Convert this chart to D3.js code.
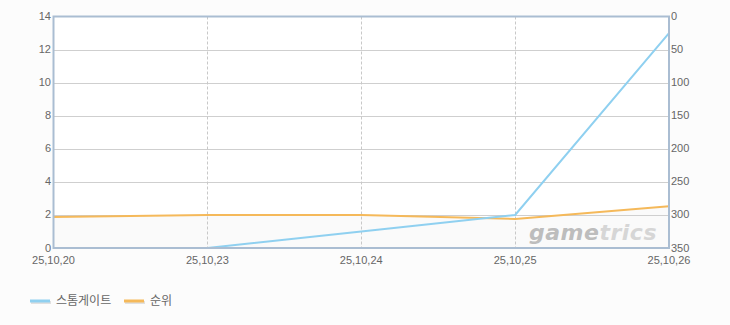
<!DOCTYPE html>
<html>
<head>
<meta charset="utf-8">
<script src="https://cdn.jsdelivr.net/npm/d3@7"></script>
<style>
  body { margin: 0; background: #fcfcfc; }
  svg { display: block; }
  text { font-family: "Liberation Sans", Arial, sans-serif; fill: #666; }
  .legend text { font-family: "Noto Sans CJK KR", sans-serif; }
</style>
</head>
<body>
<svg id="chart" width="730" height="325"></svg>
<script>
'use strict';

var dates = ['25,10,20', '25,10,23', '25,10,24', '25,10,25', '25,10,26'];
var players = [0, 0, 1, 2, 13];
var ranks = [303, 300, 300, 306, 287];
var leftTicks = [0, 2, 4, 6, 8, 10, 12, 14];
var rightTicks = [0, 50, 100, 150, 200, 250, 300, 350];
var seriesNames = ['스톰게이트', '순위'];
var colors = ['#8fd0f0', '#f5b95a'];

var svg = d3.select('#chart');
var plotLeft = 53.5, plotRight = 669, plotTop = 16.5, plotBottom = 248;

var x = d3.scalePoint().domain(dates).range([plotLeft, plotRight]);
var yL = d3.scaleLinear().domain([0, 14]).range([plotBottom, plotTop]);
var yR = d3.scaleLinear().domain([0, 350]).range([plotTop, plotBottom]);

// plot background, white above rank line, light grey below
svg.append('rect')
    .attr('x', plotLeft).attr('y', plotTop)
    .attr('width', plotRight - plotLeft).attr('height', plotBottom - plotTop)
    .attr('fill', '#fff');
svg.append('path')
    .datum(ranks)
    .attr('fill', '#fafafa')
    .attr('d', d3.area()
        .x((d, i) => x(dates[i]))
        .y0(plotBottom)
        .y1(d => yR(d)));

// horizontal grid
svg.append('g')
    .selectAll('line')
    .data(leftTicks.slice(1, -1))
    .enter().append('line')
    .attr('x1', plotLeft).attr('x2', plotRight)
    .attr('y1', d => Math.round(yL(d)) + 0.5)
    .attr('y2', d => Math.round(yL(d)) + 0.5)
    .attr('stroke', '#cfcfcf');

// vertical dashed grid
svg.append('g')
    .selectAll('line')
    .data(dates.slice(1, -1))
    .enter().append('line')
    .attr('x1', d => Math.round(x(d)) + 0.5)
    .attr('x2', d => Math.round(x(d)) + 0.5)
    .attr('y1', plotTop).attr('y2', plotBottom)
    .attr('stroke', '#c8c8c8')
    .attr('stroke-dasharray', '3,2');

// watermark
var wm = svg.append('text')
    .attr('x', 657).attr('y', 240)
    .attr('text-anchor', 'end')
    .style('font-family', '"DejaVu Sans", sans-serif')
    .style('font-size', '22px')
    .style('font-weight', 'bold')
    .style('font-style', 'italic')
    .style('letter-spacing', '0.5px');
wm.append('tspan').style('fill', '#bdbdbd').text('game');
wm.append('tspan').style('fill', '#d6d6d6').text('trics');

// series
var lineL = d3.line().x((d, i) => x(dates[i])).y(d => yL(d));
var lineR = d3.line().x((d, i) => x(dates[i])).y(d => yR(d));
svg.append('path').datum(ranks)
    .attr('fill', 'none').attr('stroke', colors[1]).attr('stroke-width', 2)
    .attr('d', lineR);
svg.append('path').datum(players)
    .attr('fill', 'none').attr('stroke', colors[0]).attr('stroke-width', 2)
    .attr('d', lineL);

// frame
svg.append('rect')
    .attr('x', plotLeft).attr('y', plotTop)
    .attr('width', plotRight - plotLeft).attr('height', plotBottom - plotTop)
    .attr('fill', 'none')
    .attr('stroke', '#aabdd2')
    .attr('stroke-width', 2);

// axes
var fs = '11px';
svg.append('g')
    .selectAll('text')
    .data(leftTicks)
    .enter().append('text')
    .attr('x', 51).attr('y', d => yL(d) + 3.5)
    .attr('text-anchor', 'end')
    .style('font-size', fs)
    .text(d => d);

svg.append('g')
    .selectAll('text')
    .data(rightTicks)
    .enter().append('text')
    .attr('x', 671).attr('y', d => yR(d) + 3.5)
    .style('font-size', fs)
    .text(d => d);

svg.append('g')
    .selectAll('text')
    .data(dates)
    .enter().append('text')
    .attr('x', d => x(d)).attr('y', 264)
    .attr('text-anchor', 'middle')
    .style('font-size', fs)
    .text(d => d);

// legend
var legend = svg.append('g').attr('class', 'legend').attr('transform', 'translate(30,301)');
var items = legend.selectAll('g')
    .data(seriesNames)
    .enter().append('g')
    .attr('transform', (d, i) => 'translate(' + (i === 0 ? 0 : 94) + ',0)');
items.append('rect')
    .attr('x', 1).attr('y', 0).attr('width', 20).attr('height', 3)
    .attr('fill', '#e0e0e0');
items.append('rect')
    .attr('x', 0).attr('y', -1.5).attr('width', 20).attr('height', 3)
    .attr('fill', (d, i) => colors[i]);
items.append('text')
    .attr('x', 26).attr('y', 4)
    .style('font-size', '12px')
    .text(d => d);
</script>
</body>
</html>
